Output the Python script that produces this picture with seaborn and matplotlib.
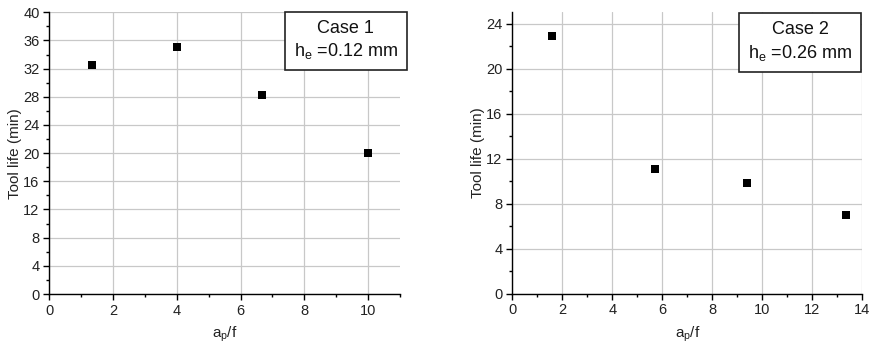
import matplotlib
matplotlib.use("Agg")
import matplotlib.pyplot as plt
import seaborn as sns
import pandas as pd
from matplotlib.ticker import MultipleLocator

sns.set_theme(style="white")
plt.rcParams['font.family'] = ['Liberation Sans', 'DejaVu Sans']
plt.rcParams['mathtext.fontset'] = 'custom'
plt.rcParams['mathtext.rm'] = 'Liberation Sans'
plt.rcParams['mathtext.it'] = 'Liberation Sans'

# Case 1 data
case1_ratio = [1.33, 4.0, 6.67, 10.0]
case1_life = [32.5, 35.1, 28.2, 20.0]
# Case 2 data
case2_ratio = [1.6, 5.72, 9.37, 13.33]
case2_life = [22.9, 11.1, 9.8, 7.0]

case1_title = "Case 1\n$\\mathrm{h_e}$ =0.12 mm"
case2_title = "Case 2\n$\\mathrm{h_e}$ =0.26 mm"
xlabel = "$\\mathrm{a_p}$/f"
ylabel = "Tool life (min)"

fig = plt.figure(figsize=(8.71, 3.47), dpi=100)
ax1 = fig.add_axes([49.3/871, 1-294/347, (400-49.3)/871, (294-12.3)/347])
ax2 = fig.add_axes([512.3/871, 1-293.7/347, (862.3-512.3)/871, (293.7-12.3)/347])

df1 = pd.DataFrame({"x": case1_ratio, "y": case1_life})
df2 = pd.DataFrame({"x": case2_ratio, "y": case2_life})

specs = [
    (ax1, df1, (0, 11), (0, 40), 2, 1, 4, 2, case1_title, (0.994, 0.973)),
    (ax2, df2, (0, 14), (0, 25), 2, 1, 4, 2, case2_title, (0.971, 0.969)),
]

for ax, df, xl, yl, xmaj, xmin, ymaj, ymin, title, pos in specs:
    sns.scatterplot(data=df, x="x", y="y", ax=ax, marker="s", s=30,
                    color="black", edgecolor="black", linewidth=0, zorder=3)
    ax.set_xlim(*xl)
    ax.set_ylim(*yl)
    ax.xaxis.set_major_locator(MultipleLocator(xmaj))
    ax.xaxis.set_minor_locator(MultipleLocator(xmin))
    ax.yaxis.set_major_locator(MultipleLocator(ymaj))
    ax.yaxis.set_minor_locator(MultipleLocator(ymin))
    ax.grid(True, which="major", color="#c8c8c8", linewidth=0.9)
    ax.set_axisbelow(True)
    for s in ["top", "right"]:
        ax.spines[s].set_visible(False)
    for s in ["left", "bottom"]:
        ax.spines[s].set_color("black")
        ax.spines[s].set_linewidth(1.0)
    ax.tick_params(which="major", direction="out", length=4, width=1,
                   color="black", labelsize=10.5, labelcolor="#222222",
                   bottom=True, left=True, pad=3)
    ax.tick_params(which="minor", direction="out", length=2.5, width=1,
                   color="black", bottom=True, left=True)
    ax.set_xlabel(xlabel, fontsize=11, color="#222222", labelpad=5)
    ax.set_ylabel(ylabel, fontsize=11, color="#222222", labelpad=1)
    t = ax.text(pos[0], pos[1], title, transform=ax.transAxes, ha="right", va="top",
                fontsize=13, color="#111111", multialignment="center",
                linespacing=1.3, zorder=5, clip_on=False,
                bbox=dict(boxstyle="square,pad=0.5", facecolor="white",
                          edgecolor="#222222", linewidth=1.2))

fig.savefig("out.png", dpi=100)
